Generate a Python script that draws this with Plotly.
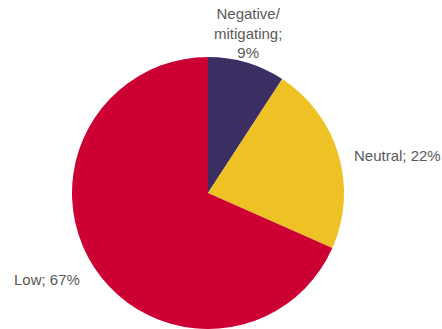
import plotly.graph_objects as go

# Share of assessments by impact category
categories = ["Negative/<br>mitigating", "Neutral", "Low"]
shares = [9, 22, 67]
colors = ["#3B2E63", "#EEC124", "#CC0033"]

W, H = 442, 329

fig = go.Figure(
    go.Pie(
        labels=categories,
        values=shares,
        sort=False,
        direction="clockwise",
        rotation=0,
        marker=dict(colors=colors, line=dict(width=0)),
        textinfo="none",
        hoverinfo="label+percent",
        domain=dict(x=[71 / W, 345 / W], y=[0, 1 - 57 / H]),
        showlegend=False,
    )
)

# Outside labels: "<category>; <share>%"
label_pos = [
    (248, 33, "center"),
    (352, 155, "left"),
    (12, 279, "left"),
]
for (px, py, anchor), cat, val in zip(label_pos, categories, shares):
    fig.add_annotation(
        x=px / W,
        y=1 - py / H,
        xref="paper",
        yref="paper",
        xanchor=anchor,
        yanchor="middle",
        align="center",
        text=f"{cat};<br>{val}%" if "<br>" in cat else f"{cat}; {val}%",
        showarrow=False,
        font=dict(family="Liberation Sans, Arial, sans-serif", size=15, color="#595959"),
    )

fig.update_layout(
    width=W,
    height=H,
    margin=dict(l=0, r=0, t=0, b=0),
    paper_bgcolor="white",
    plot_bgcolor="white",
)

fig.write_html("out.html")
